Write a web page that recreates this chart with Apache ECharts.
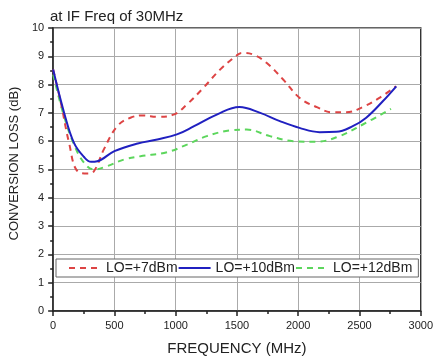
<!DOCTYPE html>
<html>
<head>
<meta charset="utf-8">
<script src="https://cdn.jsdelivr.net/npm/echarts@6/dist/echarts.min.js"></script>
<style>html,body{margin:0;padding:0;background:#fff}#c{width:436px;height:361px}</style>
</head>
<body>
<div id="c"></div>
<script>
const titleText = 'at IF Freq of 30MHz';
const xName = 'FREQUENCY (MHz)';
const yName = 'CONVERSION LOSS (dB)';
const seriesNames = ['LO=+7dBm', 'LO=+10dBm', 'LO=+12dBm'];

const freq7 = [0, 63, 130, 198, 279, 333, 414, 523, 631, 739, 848, 983, 1092, 1227, 1362, 1498, 1540, 1633, 1741, 1877, 2012, 2148, 2283, 2392, 2527, 2662, 2798];
const loss7 = [8.53, 7.36, 5.94, 4.94, 4.86, 4.94, 5.71, 6.53, 6.83, 6.91, 6.86, 6.94, 7.30, 7.89, 8.53, 9.03, 9.12, 9.06, 8.77, 8.18, 7.53, 7.21, 7.02, 7.02, 7.21, 7.53, 7.94];

const freq10 = [0, 90, 170, 250, 310, 360, 500, 690, 850, 1010, 1150, 1335, 1520, 1690, 1850, 2010, 2175, 2310, 2445, 2555, 2690, 2800];
const loss10 = [8.53, 7.00, 5.94, 5.45, 5.27, 5.29, 5.65, 5.92, 6.06, 6.24, 6.53, 6.94, 7.21, 7.00, 6.71, 6.47, 6.32, 6.33, 6.53, 6.83, 7.41, 7.94];

const freq12 = [0, 89, 171, 252, 333, 442, 577, 712, 929, 1092, 1254, 1443, 1579, 1769, 1958, 2148, 2337, 2527, 2757];
const loss12 = [8.36, 6.88, 5.88, 5.24, 5.00, 5.12, 5.35, 5.47, 5.61, 5.88, 6.18, 6.38, 6.41, 6.18, 6.00, 5.98, 6.18, 6.59, 7.14];

const pairs = (xs, ys) => xs.map((x, i) => [x, ys[i]]);

const chart = echarts.init(document.getElementById('c'));
const font = 'Liberation Sans, Arial, sans-serif';
chart.setOption({
  animation: false,
  textStyle: { fontFamily: font },
  title: {
    text: titleText, left: 45, top: 4,
    textStyle: { fontSize: 15, fontWeight: 'normal', color: '#222', fontFamily: font }
  },
  grid: { left: 52, right: 14, top: 28, bottom: 49, show: true, borderColor: '#333', borderWidth: 1.5, backgroundColor: 'transparent' },
  legend: {
    left: 56, top: 259, orient: 'horizontal',
    itemWidth: 32, itemHeight: 14, itemGap: 0,
    padding: [2, 6, 2, 12],
    backgroundColor: '#fff', borderColor: '#666', borderWidth: 1,
    itemStyle: { opacity: 0 },
    textStyle: { fontSize: 14, color: '#222', fontFamily: font },
    data: seriesNames
  },
  xAxis: {
    type: 'value', min: 0, max: 3000, interval: 500,
    name: xName, nameLocation: 'middle', nameGap: 30,
    nameTextStyle: { fontSize: 15, color: '#222', fontFamily: font },
    axisLine: { show: true, lineStyle: { color: '#222', width: 1.5 } },
    axisTick: { show: true, inside: false, length: 5, lineStyle: { color: '#222', width: 1.5 } },
    minorTick: { show: true, splitNumber: 2, length: 3, lineStyle: { color: '#222', width: 1.5 } },
    axisLabel: { fontSize: 11, color: '#222', margin: 9, fontFamily: font, formatter: v => String(v) },
    splitLine: { show: true, lineStyle: { color: '#aaa', width: 1 } }
  },
  yAxis: {
    type: 'value', min: 0, max: 10, interval: 1,
    name: yName, nameLocation: 'middle', nameGap: 30,
    nameTextStyle: { fontSize: 13, color: '#222', fontFamily: font, padding: [0, 0, 0, 12] },
    axisLine: { show: true, lineStyle: { color: '#222', width: 1.5 } },
    axisTick: { show: true, inside: false, length: 5, lineStyle: { color: '#222', width: 1.5 } },
    minorTick: { show: true, splitNumber: 2, length: 3, lineStyle: { color: '#222', width: 1.5 } },
    axisLabel: { fontSize: 11, color: '#222', margin: 9, fontFamily: font, formatter: v => String(v) },
    splitLine: { show: true, lineStyle: { color: '#aaa', width: 1 } }
  },
  series: [
    {
      name: seriesNames[0], type: 'line', smooth: 0.4, symbol: 'none',
      data: pairs(freq7, loss7),
      itemStyle: { color: '#dd4444' },
      lineStyle: { color: '#dd4444', width: 2, type: [6, 5] },
      z: 3
    },
    {
      name: seriesNames[1], type: 'line', smooth: 0.4, symbol: 'none',
      data: pairs(freq10, loss10),
      itemStyle: { color: '#2020c0' },
      lineStyle: { color: '#2020c0', width: 2 },
      z: 4
    },
    {
      name: seriesNames[2], type: 'line', smooth: 0.4, symbol: 'none',
      data: pairs(freq12, loss12),
      itemStyle: { color: '#5cd65c' },
      lineStyle: { color: '#5cd65c', width: 2, type: [6, 5] },
      z: 2
    }
  ]
});
</script>
</body>
</html>
